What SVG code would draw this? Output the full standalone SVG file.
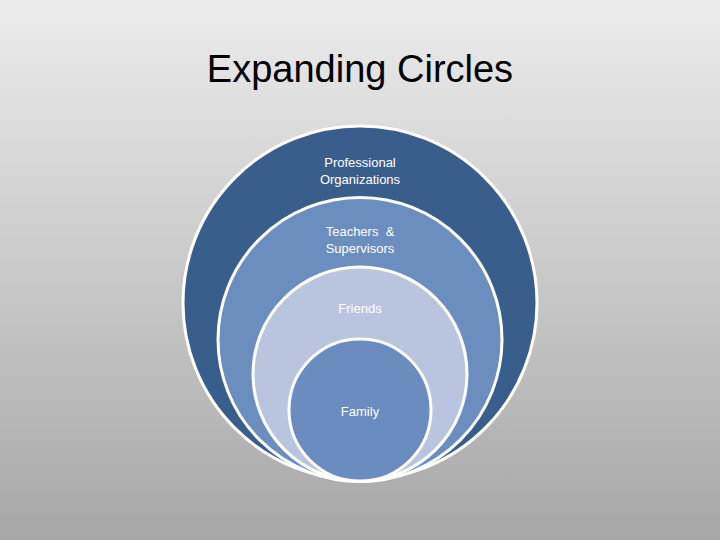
<svg xmlns="http://www.w3.org/2000/svg" width="720" height="540" viewBox="0 0 720 540">
<defs>
<linearGradient id="bg" x1="0" y1="0" x2="0" y2="1">
<stop offset="0" stop-color="#ececec"/>
<stop offset="1" stop-color="#a7a7a7"/>
</linearGradient>
<style>
.ring{stroke:#ffffff;stroke-width:3}
.lbl{font-family:"Liberation Sans",Arial,sans-serif;font-size:13px;fill:#ffffff;text-anchor:middle}
.title{font-family:"Liberation Sans",Arial,sans-serif;font-size:38px;fill:#000000;text-anchor:middle}
</style>
</defs>
<rect x="0" y="0" width="720" height="540" fill="url(#bg)"/>
<text class="title" x="360" y="82">Expanding Circles</text>
<g id="connectors"/>
<g id="professional">
<circle class="ring" cx="360" cy="303" r="177" fill="#3a5e8c"/>
<text class="lbl" x="360" y="167">Professional</text>
<text class="lbl" x="360" y="184">Organizations</text>
</g>
<g id="teachers">
<circle class="ring" cx="360" cy="339.5" r="142" fill="#6c8ebf"/>
<text class="lbl" x="360" y="236" xml:space="preserve">Teachers  &amp;</text>
<text class="lbl" x="360" y="253">Supervisors</text>
</g>
<g id="friends">
<circle class="ring" cx="360" cy="374" r="107" fill="#b9c5df"/>
<text class="lbl" x="360" y="313">Friends</text>
</g>
<g id="family">
<circle class="ring" cx="360" cy="410" r="71" fill="#6a8cbf"/>
<text class="lbl" x="360" y="416">Family</text>
</g>
</svg>
